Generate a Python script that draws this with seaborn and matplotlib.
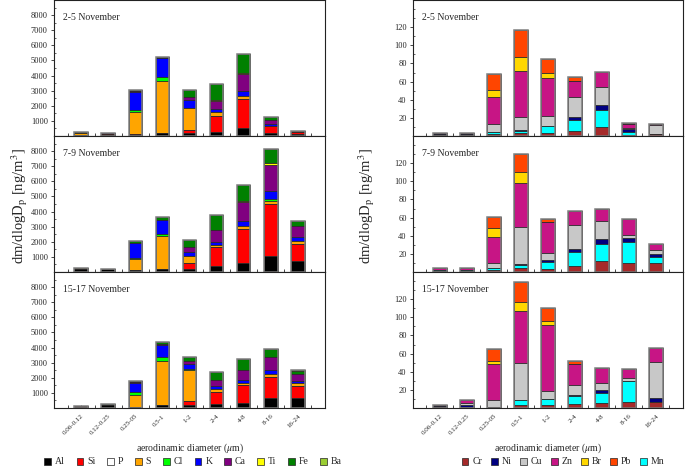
import numpy as np
import pandas as pd
import matplotlib
matplotlib.use("Agg")
import matplotlib.pyplot as plt
from matplotlib.patches import Patch
from matplotlib.ticker import FixedLocator, MultipleLocator
import seaborn as sns

# ---------------- data ----------------
cats = ["0.06-0.12", "0.12-0.25", "0.25-05", "0.5-1", "1-2", "2-4", "4-8", "8-16", "16-24"]
periods = ["2-5 November", "7-9 November", "15-17 November"]

major_el = ["Al", "Si", "P", "S", "Cl", "K", "Ca", "Ti", "Fe", "Ba"]
major_col = ["#000000", "#FF0000", "#FFFFFF", "#FFA500", "#00FF00", "#0000FF",
             "#800080", "#FFFF00", "#008000", "#9ACD32"]

# 2-5 November
al_1 = [50, 90, 80, 200, 180, 290, 550, 180, 100]
si_1 = [10, 10, 20, 0, 220, 1040, 1920, 480, 180]
p_1 = [0, 0, 0, 0, 0, 0, 0, 0, 0]
s_1 = [130, 50, 1500, 3470, 1430, 260, 180, 30, 20]
cl_1 = [0, 0, 150, 220, 0, 0, 0, 0, 0]
k_1 = [20, 20, 1190, 1240, 520, 180, 350, 120, 20]
ca_1 = [10, 10, 30, 30, 220, 560, 1130, 260, 20]
ti_1 = [0, 0, 0, 0, 20, 20, 60, 0, 0]
fe_1 = [20, 20, 100, 100, 450, 1060, 1220, 160, 10]
ba_1 = [0, 0, 0, 0, 10, 10, 0, 50, 0]

# 7-9 November
al_2 = [170, 190, 110, 200, 180, 380, 600, 1060, 710]
si_2 = [10, 0, 0, 0, 395, 1260, 2270, 3430, 1120]
p_2 = [0, 0, 0, 0, 0, 0, 0, 0, 0]
s_2 = [60, 20, 770, 2210, 505, 150, 180, 240, 220]
cl_2 = [0, 0, 60, 110, 0, 0, 0, 130, 0]
k_2 = [10, 10, 960, 930, 250, 220, 350, 530, 290]
ca_2 = [0, 0, 20, 20, 310, 770, 1200, 1700, 730]
ti_2 = [0, 0, 20, 0, 0, 20, 110, 110, 0]
fe_2 = [15, 0, 90, 200, 460, 980, 1080, 950, 300]
ba_2 = [0, 0, 0, 0, 0, 0, 0, 0, 10]

# 15-17 November
al_3 = [90, 200, 90, 220, 220, 290, 350, 660, 690]
si_3 = [10, 0, 0, 0, 220, 750, 1200, 1420, 750]
p_3 = [0, 0, 0, 0, 0, 0, 0, 0, 0]
s_3 = [30, 20, 790, 2920, 2060, 220, 130, 170, 200]
cl_3 = [0, 0, 160, 220, 110, 0, 0, 0, 0]
k_3 = [10, 10, 640, 840, 310, 180, 200, 250, 170]
ca_3 = [0, 0, 20, 30, 170, 440, 640, 860, 440]
ti_3 = [0, 0, 0, 0, 0, 0, 0, 0, 0]
fe_3 = [10, 10, 90, 120, 270, 530, 730, 550, 180]
ba_3 = [0, 0, 0, 0, 0, 0, 0, 0, 90]

major_data = [
    [al_1, si_1, p_1, s_1, cl_1, k_1, ca_1, ti_1, fe_1, ba_1],
    [al_2, si_2, p_2, s_2, cl_2, k_2, ca_2, ti_2, fe_2, ba_2],
    [al_3, si_3, p_3, s_3, cl_3, k_3, ca_3, ti_3, fe_3, ba_3],
]

trace_legend = ["Cr", "Ni", "Cu", "Zn", "Br", "Pb", "Mn"]
trace_stack = ["Cr", "Mn", "Ni", "Cu", "Zn", "Br", "Pb"]
trace_col = {"Cr": "#A52A2A", "Ni": "#000080", "Cu": "#C8C8C8", "Zn": "#C71585",
             "Br": "#FFD700", "Pb": "#FF4500", "Mn": "#00FFFF"}

# 2-5 November
cr_1 = [1.5, 1.5, 2.2, 3, 3, 5, 9.6, 1.5, 2]
mn_1 = [0, 0, 1.8, 3, 8, 12.8, 19, 3, 0]
ni_1 = [0.5, 0.5, 0.5, 0.5, 0.5, 3.3, 5.5, 3, 0.5]
cu_1 = [0, 0, 8.5, 14, 10.5, 22, 20, 1, 10]
zn_1 = [1.5, 1.5, 30, 51, 42, 17.4, 16, 4.8, 0.8]
br_1 = [0, 0, 8, 16, 5.6, 0.5, 0, 0, 0]
pb_1 = [0, 0, 17, 29, 14.8, 4.4, 0, 0.7, 0]

# 7-9 November
cr_2 = [1.5, 1.5, 2.2, 4, 3, 7, 11.8, 10.4, 9.6]
mn_2 = [0.5, 0.5, 1.8, 3.8, 8.5, 15.6, 19, 22.6, 6.7]
ni_2 = [0.5, 0.5, 0.5, 0.7, 1.8, 2.6, 6, 4, 4]
cu_2 = [0, 0, 5, 41, 8.2, 26.3, 19.3, 3.7, 3.7]
zn_2 = [2.3, 2.3, 29, 49, 33.3, 16.3, 13.6, 17.8, 7]
br_2 = [0, 0, 10, 11.8, 0.5, 0, 0, 0, 0]
pb_2 = [0, 0, 12.5, 20, 3.7, 0, 0, 0, 0]

# 15-17 November
cr_3 = [1, 1.5, 0.7, 3.7, 3, 4, 5.2, 6.3, 6.3]
mn_3 = [0, 0, 0.3, 4.8, 6.6, 9, 11.8, 23.3, 0.3]
ni_3 = [1, 1.5, 0, 0.5, 0.4, 1.8, 2.6, 0.5, 4.4]
cu_3 = [0, 2, 8, 41, 8.5, 10.7, 8.4, 2.5, 39.7]
zn_3 = [1, 3.5, 39, 57.4, 73, 23, 16, 10.7, 16]
br_3 = [0, 0, 3.5, 9.3, 4.8, 0.5, 0, 0, 0]
pb_3 = [0, 0, 13.5, 22, 13.7, 3, 0, 0, 0]

trace_data = [
    [cr_1, mn_1, ni_1, cu_1, zn_1, br_1, pb_1],
    [cr_2, mn_2, ni_2, cu_2, zn_2, br_2, pb_2],
    [cr_3, mn_3, ni_3, cu_3, zn_3, br_3, pb_3],
]

# ---------------- style ----------------
sns.set_style("ticks")
plt.rcParams["font.family"] = ["Liberation Serif", "DejaVu Serif"]
plt.rcParams["mathtext.fontset"] = "stix"

W, H = 685, 467
fig = plt.figure(figsize=(W / 100, H / 100), dpi=100)


def px_axes(x0, x1, y0, y1):
    return fig.add_axes([x0 / W, 1 - y1 / H, (x1 - x0) / W, (y1 - y0) / H])


def draw_stack(ax, layers, colors):
    cum = np.cumsum(np.array(layers, dtype=float), axis=0)
    for i in range(len(layers) - 1, -1, -1):
        df = pd.DataFrame({"cat": cats, "val": cum[i]})
        sns.barplot(data=df, x="cat", y="val", order=cats, color=colors[i],
                    saturation=1, width=0.5, edgecolor="#2a2a2a", linewidth=0.6,
                    errorbar=None, ax=ax)
    df = pd.DataFrame({"cat": cats, "val": cum[-1]})
    sns.barplot(data=df, x="cat", y="val", order=cats, color="#808080",
                fill=False, width=0.5, linewidth=1.1, errorbar=None, ax=ax)


rows = [(0, 136), (136, 272), (272, 408)]
for r, (y0, y1) in enumerate(rows):
    # left column: major elements
    axl = px_axes(54, 325, y0, y1)
    draw_stack(axl, major_data[r], major_col)
    axl.set_ylim(0, 9000)
    axl.set_yticks(range(1000, 9000, 1000))
    axl.yaxis.set_minor_locator(MultipleLocator(500))
    # right column: trace elements
    axr = px_axes(413, 683, y0, y1)
    draw_stack(axr, trace_data[r], [trace_col[e] for e in trace_stack])
    axr.set_ylim(0, 150)
    axr.set_yticks(range(20, 140, 20))
    axr.yaxis.set_minor_locator(MultipleLocator(10))

    for ax in (axl, axr):
        ax.set_xlim(-1, 9)
        ax.set_xlabel("")
        ax.set_ylabel("")
        for s in ax.spines.values():
            s.set_visible(True)
            s.set_linewidth(0.8)
            s.set_color("#222222")
        ax.set_xticks(range(len(cats)))
        ax.xaxis.set_minor_locator(FixedLocator([k + 0.5 for k in range(-1, 9)]))
        ax.tick_params(axis="x", which="both", direction="in", length=2, width=0.6)
        ax.tick_params(axis="y", which="major", direction="out", length=2.5,
                       width=0.6, labelsize=6, pad=2)
        ax.tick_params(axis="y", which="minor", direction="in", length=1.5, width=0.5)
        ax.text(0.035, 0.875, periods[r], transform=ax.transAxes, fontsize=7,
                ha="left", va="center")
        if r < 2:
            ax.set_xticklabels([])
        else:
            ax.set_xticklabels(cats, rotation=45, ha="right", rotation_mode="anchor",
                               fontsize=5)
            ax.tick_params(axis="x", pad=4)

# y labels
ylab = r"dm/dlogD$_\mathrm{p}$ [ng/m$^3$]"
fig.text(20 / W, 1 - 206 / H, ylab, rotation=90, ha="center", va="center", fontsize=10.5)
fig.text(367 / W, 1 - 206 / H, ylab, rotation=90, ha="center", va="center", fontsize=10.5)

# x labels
xlab = r"aerodinamic diameter ($\mu$m)"
fig.text(190 / W, 1 - 448 / H, xlab, ha="center", va="center", fontsize=7)
fig.text(548 / W, 1 - 448 / H, xlab, ha="center", va="center", fontsize=7)

# legends
hl = [Patch(facecolor=c, edgecolor="#222222", linewidth=0.5) for c in major_col]
fig.legend(hl, major_el, loc="center", bbox_to_anchor=(193 / W, 1 - 462 / H), ncol=10,
           frameon=False, fontsize=7, handlelength=0.7, handleheight=0.7,
           handletextpad=0.4, columnspacing=1.2, borderpad=0, borderaxespad=0)
hr = [Patch(facecolor=trace_col[e], edgecolor="#222222", linewidth=0.5) for e in trace_legend]
fig.legend(hr, trace_legend, loc="center", bbox_to_anchor=(563 / W, 1 - 462 / H), ncol=7,
           frameon=False, fontsize=7, handlelength=0.7, handleheight=0.7,
           handletextpad=0.4, columnspacing=0.9, borderpad=0, borderaxespad=0)

fig.savefig("out.png", dpi=100)
